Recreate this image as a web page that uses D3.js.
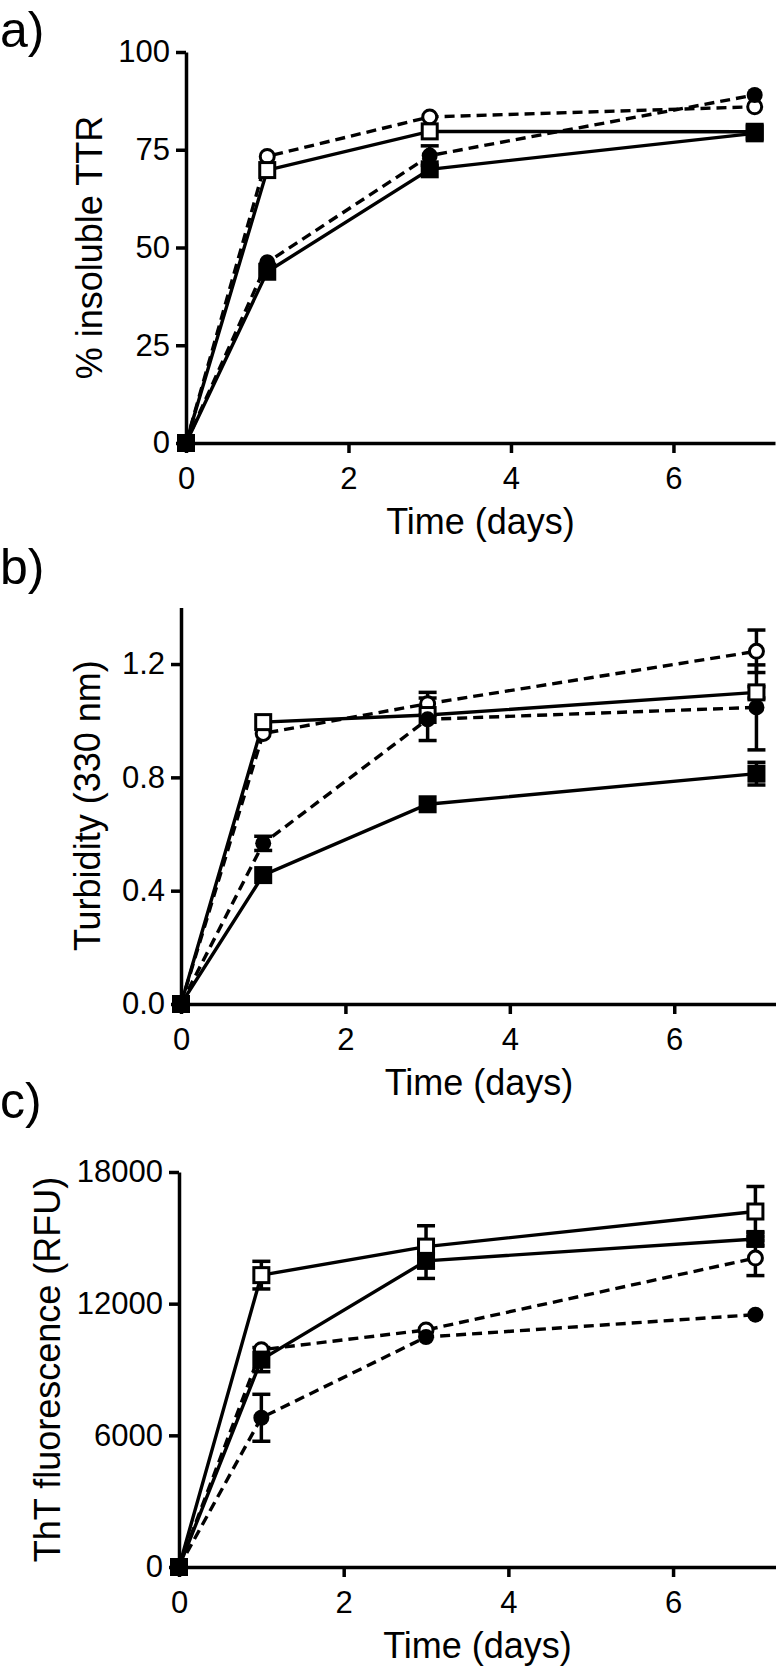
<!DOCTYPE html>
<html>
<head>
<meta charset="utf-8">
<script src="https://cdn.jsdelivr.net/npm/d3@7"></script>
<style>
  html, body { margin: 0; padding: 0; background: #fff; }
  svg { display: block; font-family: "Liberation Sans", Arial, sans-serif; }
</style>
</head>
<body>
<svg id="chart" width="776" height="1674"></svg>
<script>
// ---------- data ----------
const days = [0, 1, 3, 7];
const xTicks = [0, 2, 4, 6];

// panel a: % insoluble TTR
const aTicks = [0, 25, 50, 75, 100];
const aOpenCircle   = [0, 73.3, 83.4, 86.0];
const aOpenCircleErr = [0, 0, 0, 0];
const aOpenSquare   = [0, 69.8, 79.7, 79.6];
const aOpenSquareErr = [0, 0, 0, 0];
const aFilledCircle = [0, 46.2, 73.5, 89.0];
const aFilledCircleErr = [0, 0, 2.5, 0];
const aFilledSquare = [0, 43.8, 70.0, 79.2];
const aFilledSquareErr = [0, 0, 0, 0];

// panel b: Turbidity (330 nm)
const bTicks = [0, 0.4, 0.8, 1.2];
const bOpenCircle   = [0, 0.955, 1.06, 1.245];
const bOpenCircleErr = [0, 0, 0.04, 0.075];
const bOpenSquare   = [0, 0.995, 1.02, 1.10];
const bOpenSquareErr = [0, 0, 0, 0.02];
const bFilledCircle = [0, 0.567, 1.005, 1.047];
const bFilledCircleErr = [0, 0.025, 0.075, 0.15];
const bFilledSquare = [0, 0.455, 0.705, 0.813];
const bFilledSquareErr = [0, 0, 0, 0.04];

// panel c: ThT fluorescence (RFU)
const cTicks = [0, 6000, 12000, 18000];
const cOpenSquare   = [0, 13300, 14600, 16200];
const cOpenSquareErr = [0, 630, 950, 1140];
const cFilledSquare = [0, 9450, 13950, 14950];
const cFilledSquareErr = [0, 550, 800, 300];
const cOpenCircle   = [0, 9900, 10800, 14080];
const cOpenCircleErr = [0, 0, 0, 800];
const cFilledCircle = [0, 6800, 10480, 11500];
const cFilledCircleErr = [0, 1070, 0, 0];

// ---------- drawing ----------
const svg = d3.select("#chart");

function drawPanel(p) {
  const g = svg.append("g");
  const x = d3.scaleLinear().domain([0, 7.25]).range([p.left, p.right]);
  const y = d3.scaleLinear().domain([0, p.yMax]).range([p.bottom, p.top]);

  // panel label
  svg.append("text").attr("x", 0).attr("y", p.labelY)
    .attr("font-size", 50).attr("fill", "#000").text(p.label);

  // axes
  const xAxis = d3.axisBottom(x).tickValues(xTicks).tickFormat(d3.format("d"))
    .tickSize(10).tickSizeOuter(0).tickPadding(14);
  const yAxis = d3.axisLeft(y).tickValues(p.yTicks).tickFormat(p.yFmt)
    .tickSize(10).tickSizeOuter(0).tickPadding(6);

  const gx = g.append("g").attr("transform", `translate(0,${p.bottom})`).call(xAxis);
  const gy = g.append("g").attr("transform", `translate(${p.left},0)`).call(yAxis);
  [gx, gy].forEach(a => {
    a.select(".domain").attr("stroke", "#000").attr("stroke-width", 3.5);
    a.selectAll(".tick line").attr("stroke", "#000").attr("stroke-width", 3.5);
    a.selectAll(".tick text").attr("font-size", 31).attr("fill", "#000")
      .attr("font-family", '"Liberation Sans", Arial, sans-serif');
  });

  // axis titles
  g.append("text").attr("x", (p.left + p.right) / 2).attr("y", p.bottom + 91)
    .attr("text-anchor", "middle").attr("font-size", 36).text("Time (days)");
  g.append("text")
    .attr("transform", `translate(${p.yTitleX},${(p.top + p.bottom) / 2}) rotate(-90)`)
    .attr("text-anchor", "middle").attr("font-size", 36).text(p.yTitle);

  const line = d3.line().x((d, i) => x(days[i])).y(d => y(d));

  // lines
  p.series.forEach(s => {
    g.append("path").datum(s.values).attr("d", line)
      .attr("fill", "none").attr("stroke", "#000").attr("stroke-width", 3.4)
      .attr("stroke-dasharray", s.dashed ? "10,6" : null);
  });

  // error bars
  p.series.forEach(s => {
    s.values.forEach((v, i) => {
      const e = s.err[i];
      if (!e) return;
      const cx = x(days[i]);
      g.append("line").attr("x1", cx).attr("x2", cx)
        .attr("y1", y(v - e)).attr("y2", y(v + e))
        .attr("stroke", "#000").attr("stroke-width", 3.5);
      [v - e, v + e].forEach(t => {
        g.append("line").attr("x1", cx - 9).attr("x2", cx + 9)
          .attr("y1", y(t)).attr("y2", y(t))
          .attr("stroke", "#000").attr("stroke-width", 3.5);
      });
    });
  });

  // markers (open first, filled on top)
  p.series.forEach(s => {
    s.values.forEach((v, i) => {
      const cx = x(days[i]), cy = y(v);
      if (s.shape === "circle") {
        g.append("circle").attr("cx", cx).attr("cy", cy)
          .attr("r", s.filled ? 8 : 7)
          .attr("fill", s.filled ? "#000" : "#fff")
          .attr("stroke", "#000").attr("stroke-width", s.filled ? 0 : 3);
      } else {
        const sz = s.filled ? 18 : 15;
        g.append("rect").attr("x", cx - sz / 2).attr("y", cy - sz / 2)
          .attr("width", sz).attr("height", sz)
          .attr("fill", s.filled ? "#000" : "#fff")
          .attr("stroke", "#000").attr("stroke-width", s.filled ? 0 : 3);
      }
    });
  });
}

function seriesList(oc, ocE, os, osE, fc, fcE, fs, fsE) {
  return [
    { values: oc, err: ocE, shape: "circle", filled: false, dashed: true },
    { values: os, err: osE, shape: "square", filled: false, dashed: false },
    { values: fc, err: fcE, shape: "circle", filled: true, dashed: true },
    { values: fs, err: fsE, shape: "square", filled: true, dashed: false }
  ];
}

drawPanel({
  label: "a)", labelY: 47,
  left: 186, right: 775, top: 52, bottom: 443, yMax: 100,
  yTicks: aTicks, yFmt: d3.format("d"),
  yTitle: "% insoluble TTR", yTitleX: 102,
  series: seriesList(aOpenCircle, aOpenCircleErr, aOpenSquare, aOpenSquareErr,
                     aFilledCircle, aFilledCircleErr, aFilledSquare, aFilledSquareErr)
});

drawPanel({
  label: "b)", labelY: 584,
  left: 181, right: 777, top: 1004 - 1.4 * 283.3, bottom: 1004, yMax: 1.4,
  yTicks: bTicks, yFmt: d3.format(".1f"),
  yTitle: "Turbidity (330 nm)", yTitleX: 100,
  series: seriesList(bOpenCircle, bOpenCircleErr, bOpenSquare, bOpenSquareErr,
                     bFilledCircle, bFilledCircleErr, bFilledSquare, bFilledSquareErr)
});

drawPanel({
  label: "c)", labelY: 1118,
  left: 179, right: 776, top: 1172, bottom: 1567, yMax: 18000,
  yTicks: cTicks, yFmt: d3.format("d"),
  yTitle: "ThT fluorescence (RFU)", yTitleX: 60,
  series: seriesList(cOpenCircle, cOpenCircleErr, cOpenSquare, cOpenSquareErr,
                     cFilledCircle, cFilledCircleErr, cFilledSquare, cFilledSquareErr)
});
</script>
</body>
</html>
